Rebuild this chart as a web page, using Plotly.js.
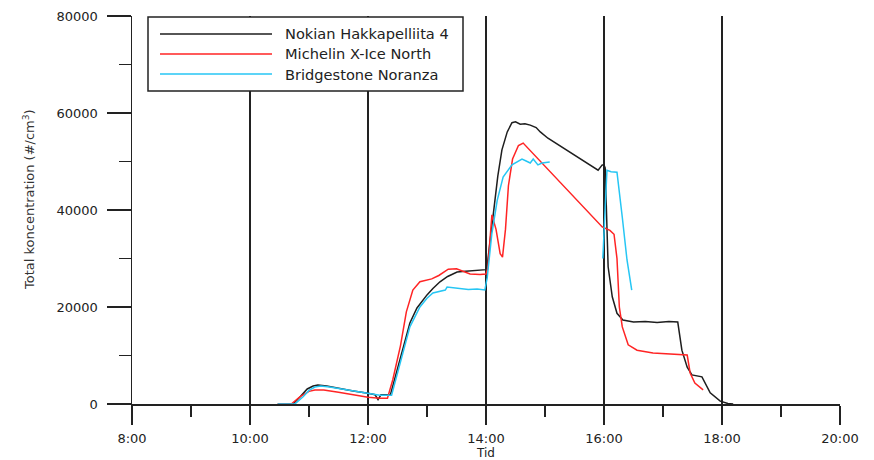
<!DOCTYPE html>
<html>
<head>
<meta charset="utf-8">
<script src="https://cdn.plot.ly/plotly-3.0.1.min.js"></script>
<style>
html,body{margin:0;padding:0;background:#fff;}
#chart{width:874px;height:460px;}
</style>
</head>
<body>
<div id="chart"></div>
<script>
// Time in decimal hours, concentration in #/cm3
const seriesNames = ["Nokian Hakkapelliita 4", "Michelin X-Ice North", "Bridgestone Noranza"];

const nokianT = [10.47,10.73,10.85,10.97,11.07,11.15,11.3,11.5,11.75,12.0,12.12,12.17,12.22,12.38,12.45,12.55,12.65,12.71,12.83,13.0,13.1,13.22,13.35,13.51,13.6,13.73,13.85,14.0,14.02,14.08,14.15,14.2,14.27,14.36,14.44,14.5,14.58,14.66,14.75,14.85,14.92,15.05,15.9,15.97,16.0,16.02,16.07,16.14,16.22,16.32,16.5,16.7,16.9,17.1,17.25,17.32,17.41,17.49,17.66,17.71,17.8,17.97,18.1,18.19];
const nokianV = [0,0,1500,3100,3700,3900,3700,3200,2700,2200,1900,900,1900,1900,5000,9500,13500,16700,19800,22500,23800,25200,26300,27200,27300,27400,27600,27700,28500,35000,42000,47000,52400,56100,58000,58200,57700,57800,57500,57000,56100,54800,48200,49300,49300,48700,28300,22100,18700,17300,16900,17000,16800,17000,16900,11100,7600,6000,5600,4300,2300,600,100,0];

const michelinT = [10.47,10.7,10.85,11.0,11.1,11.25,11.5,11.75,12.0,12.2,12.33,12.42,12.55,12.65,12.76,12.88,13.08,13.2,13.36,13.5,13.56,13.73,13.9,14.0,14.03,14.1,14.17,14.24,14.28,14.33,14.38,14.45,14.55,14.63,15.97,16.1,16.17,16.22,16.26,16.31,16.41,16.56,16.83,17.24,17.41,17.46,17.54,17.68];
const michelinV = [0,0,1500,2600,2900,2900,2400,1900,1400,1200,1200,5000,12000,19000,23500,25200,25800,26500,27800,27900,27600,26800,26700,26800,28000,39000,36000,31000,30300,36000,45000,50500,53300,53800,36500,35800,35000,30000,20000,15900,12200,11100,10500,10300,10100,6400,4300,2900];

const bridgestoneT = [10.47,10.76,10.9,11.0,11.1,11.2,11.35,11.6,11.85,12.0,12.2,12.4,12.47,12.57,12.71,12.88,13.0,13.1,13.22,13.31,13.34,13.45,13.56,13.7,13.85,13.98,14.02,14.1,14.19,14.29,14.44,14.61,14.68,14.75,14.8,14.88,14.95,15.08,15.5,15.98,16.05,16.12,16.22,16.31,16.39,16.47];
const bridgestoneV = [0,0,1500,2800,3500,3700,3500,3000,2500,2100,1800,1800,5000,10000,15900,20000,21800,22900,23200,23500,24100,23900,23700,23600,23700,23500,26000,35200,42000,46800,49300,50500,50100,49700,50500,49300,49700,49900,null,30000,48200,47900,47800,38500,29700,23500];

const xTickVals = [8,10,12,14,16,18,20];
const xTickText = ["8:00","10:00","12:00","14:00","16:00","18:00","20:00"];
const xMinorVals = [9,11,13,15,17,19];
const yTickVals = [0,20000,40000,60000,80000];
const yMinorVals = [10000,30000,50000,70000];

const colors = ["#1e1e1e","#ff2424","#26c6f4"];

const traces = [
  {x: nokianT, y: nokianV, name: seriesNames[0]},
  {x: michelinT, y: michelinV, name: seriesNames[1]},
  {x: bridgestoneT, y: bridgestoneV, name: seriesNames[2]}
].map((t,i)=>Object.assign(t,{type:'scatter',mode:'lines',connectgaps:false,line:{color:colors[i],width:1.5}}));

// Legend drawn as paper-referenced box, sample lines and text
const L = {l:132, t:16, w:708, h:388};
const px = v => (v - L.l) / L.w;
const py = v => (L.t + L.h - v) / L.h;
const legendRows = [34, 54, 74];

const shapes = [{
  type:'rect', xref:'paper', yref:'paper', layer:'above',
  x0:px(148), x1:px(463), y0:py(91), y1:py(17),
  fillcolor:'#fff', line:{color:'#222', width:1.5}
}];
const annotations = [];
seriesNames.forEach((n,i)=>{
  shapes.push({type:'line', xref:'paper', yref:'paper', layer:'above',
    x0:px(160), x1:px(272), y0:py(legendRows[i]), y1:py(legendRows[i]),
    line:{color:colors[i], width:1.5}});
  annotations.push({xref:'paper', yref:'paper', x:px(283), y:py(legendRows[i]),
    xanchor:'left', yanchor:'middle', showarrow:false, text:n,
    font:{family:'DejaVu Sans, sans-serif', size:14.6, color:'#222'}});
});
// Y-axis title
annotations.push({xref:'paper', yref:'paper', x:px(29), y:py(200),
  xanchor:'center', yanchor:'middle', showarrow:false, textangle:-90,
  text:'Total koncentration (#/cm<sup>3</sup>)',
  font:{family:'DejaVu Sans, sans-serif', size:13, color:'#333'}});

const layout = {
  width: 874, height: 460,
  margin: {l:132, r:34, t:16, b:56},
  paper_bgcolor:'#fff', plot_bgcolor:'#fff',
  font: {family:'DejaVu Sans, sans-serif', size:13, color:'#222'},
  showlegend: false,
  shapes: shapes,
  annotations: annotations,
  xaxis: {
    range:[8,20], tickmode:'array', tickvals:xTickVals, ticktext:xTickText,
    ticks:'outside', ticklen:19, tickwidth:1.5, tickcolor:'#222',
    showgrid:true, gridcolor:'#222', gridwidth:1.5,
    showline:true, linecolor:'#222', linewidth:1.5, zeroline:false,
    minor:{tickmode:'array', tickvals:xMinorVals, ticks:'outside', ticklen:11, tickwidth:1.5, tickcolor:'#222', showgrid:false},
    tickfont:{family:'DejaVu Sans, sans-serif', size:13, color:'#222'},
    ticklabelstandoff: 3,
    title:{text:'Tid', font:{family:'DejaVu Sans, sans-serif', size:12, color:'#222'}, standoff:6},
    fixedrange:true
  },
  yaxis: {
    range:[0,80000], tickmode:'array', tickvals:yTickVals, ticktext:yTickVals.map(String),
    ticks:'outside', ticklen:24, tickwidth:1.5, tickcolor:'#222',
    showgrid:false, showline:true, linecolor:'#222', linewidth:1.5, zeroline:false,
    minor:{tickmode:'array', tickvals:yMinorVals, ticks:'outside', ticklen:12, tickwidth:1.5, tickcolor:'#222', showgrid:false},
    tickfont:{family:'DejaVu Sans, sans-serif', size:13, color:'#222'},
    ticklabelstandoff: 6,
    fixedrange:true
  }
};

Plotly.newPlot('chart', traces, layout, {displayModeBar:false, staticPlot:true});
</script>
</body>
</html>
